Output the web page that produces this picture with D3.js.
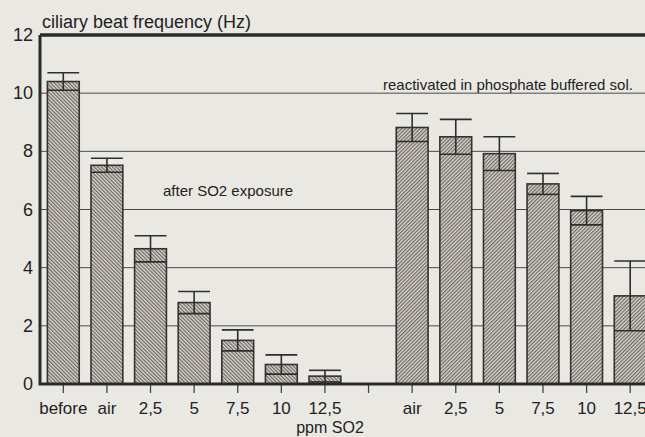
<!DOCTYPE html>
<html>
<head>
<meta charset="utf-8">
<script src="https://cdn.jsdelivr.net/npm/d3@7"></script>
<style>
  html, body { margin: 0; padding: 0; background: #eae8e3; }
  svg { display: block; font-family: "Liberation Sans", Arial, sans-serif; }
</style>
</head>
<body>
<svg id="chart" width="645" height="437"></svg>
<script>
// after SO2 exposure
var labelsA = ["before", "air", "2,5", "5", "7,5", "10", "12,5"];
var meansA  = [10.4, 7.52, 4.65, 2.8, 1.5, 0.67, 0.27];
var sdA     = [0.3, 0.24, 0.45, 0.38, 0.36, 0.33, 0.2];

// reactivated in phosphate buffered sol.
var labelsB = ["air", "2,5", "5", "7,5", "10", "12,5"];
var meansB  = [8.82, 8.5, 7.92, 6.88, 5.96, 3.03];
var sdB     = [0.48, 0.6, 0.58, 0.36, 0.49, 1.2];

var yTicks = [0, 2, 4, 6, 8, 10, 12];

var svg = d3.select('#chart');

// bars of both groups, one empty slot in between
var bars = [];
labelsA.forEach(function(l, i) { bars.push({slot: i, label: l, m: meansA[i], sd: sdA[i], g: 'A'}); });
labelsB.forEach(function(l, i) { bars.push({slot: labelsA.length + 1 + i, label: l, m: meansB[i], sd: sdB[i], g: 'B'}); });
var nSlots = labelsA.length + 1 + labelsB.length;

var x = d3.scaleBand()
  .domain(d3.range(nSlots))
  .range([41.5, 652])
  .paddingInner(0.27)
  .paddingOuter(0.135);

var y = d3.scaleLinear()
  .domain([0, 12])
  .range([384, 35]);

// hatch patterns, "\" for the first group and "/" for the second
var defs = svg.append('defs');
[['hatchA', -45], ['hatchB', 45]].forEach(function(p) {
  var pat = defs.append('pattern')
    .attr('id', p[0])
    .attr('patternUnits', 'userSpaceOnUse')
    .attr('width', 2.6).attr('height', 10)
    .attr('patternTransform', 'rotate(' + p[1] + ')');
  pat.append('rect').attr('width', 2.6).attr('height', 10).attr('fill', '#d6d1c9');
  pat.append('line')
    .attr('x1', 0.6).attr('x2', 0.6).attr('y1', 0).attr('y2', 10)
    .attr('stroke', '#66625d').attr('stroke-width', 1.1);
});

// gridlines
svg.append('g')
  .selectAll('line')
  .data(yTicks.filter(function(t) { return t > 0 && t < 12; }))
  .enter().append('line')
    .attr('x1', 40).attr('x2', 652)
    .attr('y1', function(d) { return y(d); })
    .attr('y2', function(d) { return y(d); })
    .attr('stroke', '#4a4a4a').attr('stroke-width', 1);

// bars
var bw = x.bandwidth();
var gBars = svg.append('g');
gBars.selectAll('rect')
  .data(bars)
  .enter().append('rect')
    .attr('x', function(d) { return x(d.slot); })
    .attr('y', function(d) { return y(d.m); })
    .attr('width', bw)
    .attr('height', function(d) { return y(0) - y(d.m); })
    .attr('fill', function(d) { return 'url(#hatch' + d.g + ')'; })
    .attr('stroke', '#333').attr('stroke-width', 1.6);

// error bars
var gErr = svg.append('g').attr('stroke', '#2e2e2e').attr('stroke-width', 1.6);
bars.forEach(function(d) {
  var cx = x(d.slot) + bw / 2;
  gErr.append('line')
    .attr('x1', cx).attr('x2', cx)
    .attr('y1', y(d.m - d.sd)).attr('y2', y(d.m + d.sd));
  gErr.append('line')
    .attr('x1', x(d.slot)).attr('x2', x(d.slot) + bw)
    .attr('y1', y(d.m + d.sd)).attr('y2', y(d.m + d.sd));
  gErr.append('line')
    .attr('x1', x(d.slot)).attr('x2', x(d.slot) + bw)
    .attr('y1', y(d.m - d.sd)).attr('y2', y(d.m - d.sd));
});

// x ticks (every slot) and labels
svg.append('g')
  .selectAll('line')
  .data(d3.range(nSlots))
  .enter().append('line')
    .attr('x1', function(d) { return x(d) + bw / 2; })
    .attr('x2', function(d) { return x(d) + bw / 2; })
    .attr('y1', 384).attr('y2', 393)
    .attr('stroke', '#444').attr('stroke-width', 1.3);

svg.append('g')
  .selectAll('text')
  .data(bars)
  .enter().append('text')
    .attr('x', function(d) { return x(d.slot) + bw / 2; })
    .attr('y', 414)
    .attr('text-anchor', 'middle')
    .attr('font-size', 17)
    .attr('fill', '#222')
    .text(function(d) { return d.label; });

// y labels
svg.append('g')
  .selectAll('text')
  .data(yTicks)
  .enter().append('text')
    .attr('x', 33)
    .attr('y', function(d) { return y(d) + 6; })
    .attr('text-anchor', 'end')
    .attr('font-size', 18)
    .attr('fill', '#222')
    .text(function(d) { return d; });

// frame: left axis, bottom axis, top border
svg.append('path')
  .attr('d', 'M' + 40 + ',' + y(12) + 'V' + y(0) + 'H645')
  .attr('fill', 'none').attr('stroke', '#2a2a2a').attr('stroke-width', 3);
svg.append('line')
  .attr('x1', 40).attr('x2', 645)
  .attr('y1', y(12)).attr('y2', y(12))
  .attr('stroke', '#2a2a2a').attr('stroke-width', 3.5);

// titles
svg.append('text')
  .attr('x', 42).attr('y', 28)
  .attr('font-size', 18).attr('fill', '#222')
  .text('ciliary beat frequency (Hz)');

svg.append('text')
  .attr('x', 330).attr('y', 433)
  .attr('text-anchor', 'middle')
  .attr('font-size', 16).attr('fill', '#222')
  .text('ppm SO2');

svg.append('text')
  .attr('x', 163).attr('y', 196)
  .attr('font-size', 15).attr('fill', '#222')
  .text('after SO2 exposure');

svg.append('text')
  .attr('x', 383).attr('y', 90)
  .attr('font-size', 15).attr('fill', '#222')
  .text('reactivated in phosphate buffered sol.');
</script>
</body>
</html>
